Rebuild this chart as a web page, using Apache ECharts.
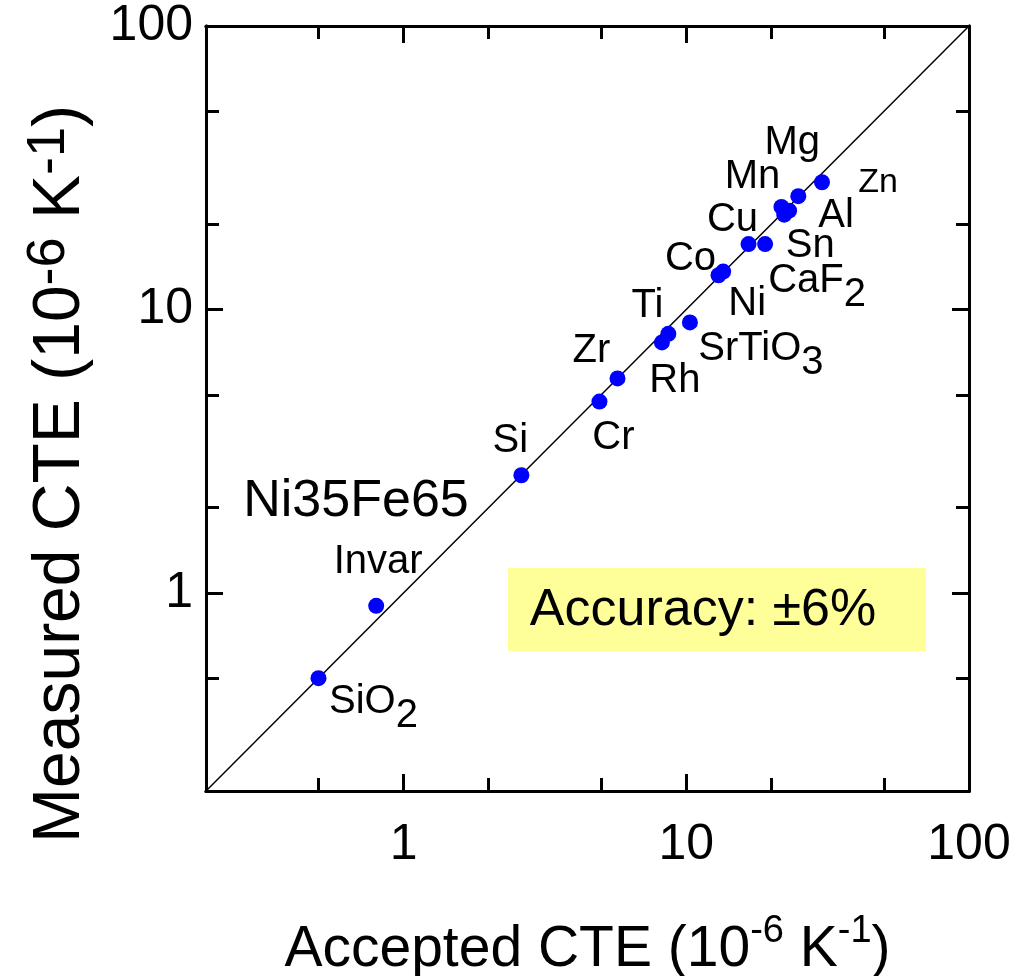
<!DOCTYPE html>
<html>
<head>
<meta charset="utf-8">
<script src="https://cdn.jsdelivr.net/npm/echarts@6/dist/echarts.min.js"></script>
<style>
  html, body { margin: 0; padding: 0; background: #fff; }
  #chart { width: 1029px; height: 976px; }
</style>
</head>
<body>
<div id="chart"></div>
<script>
// Accepted vs. measured coefficient of thermal expansion (10^-6 K^-1)
const materials   = ['SiO2', 'Invar', 'Si', 'Cr', 'Zr', 'Rh', 'Ti', 'SrTiO3', 'Co', 'Ni', 'Cu', 'CaF2', 'Mn', 'Sn', 'Al', 'Mg', 'Zn'];
const acceptedCTE = [0.50, 0.80, 2.61, 4.93, 5.71, 8.2, 8.64, 10.3, 13.0, 13.5, 16.6, 19.0, 21.7, 22.2, 23.1, 24.9, 30.2];
const measuredCTE = [0.50, 0.90, 2.60, 4.73, 5.71, 7.65, 8.2, 9.0, 13.2, 13.6, 17.0, 17.0, 23.0, 21.6, 22.3, 25.1, 28.1];

const majorTicks = [1, 10, 100];
const minorTicks = [0.5, 2, 5, 20, 50];
const axisMin = 0.2;
const axisMax = 100;
const alloyNote = 'Ni35Fe65';
const accuracyNote = 'Accuracy: \u00b16%';

// label offsets from each marker centre, in pixels
const labelOffset = {
  SiO2: [55, 31], Invar: [2, -44], Si: [-11, -34], Cr: [14, 36], Zr: [-26, -27],
  Rh: [13, 39], Ti: [-21, -28], SrTiO3: [71, 34], Co: [-28, -16], Ni: [24, 32],
  Cu: [-16, -24], CaF2: [52, 44], Mn: [-29, -30], Sn: [26, 31], Al: [47, 5],
  Mg: [-6, -53], Zn: [56, 0]
};

const FONT = '"Liberation Sans", Arial, Helvetica, sans-serif';
const black = '#000';

// formula digits become lowered subscripts
function formula(name) {
  if (!/\d/.test(name)) return name;
  return name.replace(/([A-Za-z]+)/g, '{n|$1}').replace(/(\d+)/g, '{sub|$1}');
}

function axisDef(position, ticks, len, labels, margin) {
  return {
    type: 'log', logBase: 10, min: axisMin, max: axisMax, position: position,
    axisLine: { show: true, onZero: false, lineStyle: { color: black, width: 3 } },
    axisTick: { show: true, inside: true, length: len, customValues: ticks, lineStyle: { color: black, width: 3 } },
    axisLabel: labels ? { show: true, customValues: majorTicks, fontSize: 50, color: black, fontFamily: FONT, margin: margin } : { show: false },
    splitLine: { show: false }, minorTick: { show: false }
  };
}

const xAxes = [
  axisDef('bottom', majorTicks, 17, true, 29),
  axisDef('bottom', minorTicks, 13, false),
  axisDef('top', majorTicks, 17, false),
  axisDef('top', minorTicks, 13, false)
];
const yAxes = [
  axisDef('left', majorTicks, 17, true, 13),
  axisDef('left', minorTicks, 13, false),
  axisDef('right', majorTicks, 17, false),
  axisDef('right', minorTicks, 13, false)
];

xAxes[0].name = '{n|Accepted CTE (10}{s|-6}{n| K}{s|-1}{n|)}';
xAxes[0].nameLocation = 'middle';
xAxes[0].nameGap = 122;
xAxes[0].nameTextStyle = {
  rich: {
    n: { fontSize: 57, fontFamily: FONT, color: black, lineHeight: 66, verticalAlign: 'bottom' },
    s: { fontSize: 38, fontFamily: FONT, color: black, lineHeight: 38, verticalAlign: 'top' }
  }
};

const points = materials.map((m, i) => {
  const size = m === 'Zn' ? 34 : 40;
  return {
    name: m,
    value: [acceptedCTE[i], measuredCTE[i]],
    label: {
      show: true,
      position: 'inside',
      offset: labelOffset[m],
      formatter: formula(m),
      fontSize: size,
      color: black,
      fontFamily: FONT,
      rich: {
        n: { fontSize: size, fontFamily: FONT, color: black, lineHeight: 40, verticalAlign: 'top' },
        sub: { fontSize: size, fontFamily: FONT, color: black, lineHeight: 54, verticalAlign: 'bottom' }
      }
    }
  };
});

const chart = echarts.init(document.getElementById('chart'), null, { renderer: 'canvas' });
chart.setOption({
  animation: false,
  backgroundColor: '#fff',
  grid: { left: 206, right: 60, top: 26, bottom: 185, containLabel: false, outerBoundsMode: 'none' },
  xAxis: xAxes,
  yAxis: yAxes,
  series: [
    {
      // y = x reference line
      type: 'line',
      data: [[axisMin, axisMin], [axisMax, axisMax]],
      symbol: 'none',
      lineStyle: { color: black, width: 1.5 },
      silent: true,
      z: 2
    },
    {
      type: 'scatter',
      data: points,
      symbol: 'circle',
      symbolSize: 16,
      itemStyle: { color: '#0000ff', opacity: 1 },
      z: 3
    }
  ],
  graphic: [
    {
      type: 'rect',
      shape: { x: 508, y: 568, width: 418, height: 83 },
      style: { fill: '#ffff99' },
      z: 1
    },
    {
      type: 'text',
      x: 703, y: 611,
      style: { text: accuracyNote, fontSize: 52, fontFamily: FONT, fill: black, align: 'center', verticalAlign: 'middle' },
      z: 5
    },
    {
      type: 'text',
      x: 356, y: 502,
      style: { text: alloyNote, fontSize: 52, fontFamily: FONT, fill: black, align: 'center', verticalAlign: 'middle' },
      z: 5
    },
    {
      // vertical axis title
      type: 'text',
      x: 58, y: 474,
      rotation: Math.PI / 2,
      style: {
        text: '{n|Measured CTE (10}{s|-6}{n| K}{s|-1}{n|)}',
        align: 'center', verticalAlign: 'middle',
        rich: {
          n: { fontSize: 66, fontFamily: FONT, fill: black, lineHeight: 72, verticalAlign: 'bottom' },
          s: { fontSize: 54, fontFamily: FONT, fill: black, lineHeight: 62, verticalAlign: 'top' }
        }
      },
      z: 5
    }
  ]
});
</script>
</body>
</html>
